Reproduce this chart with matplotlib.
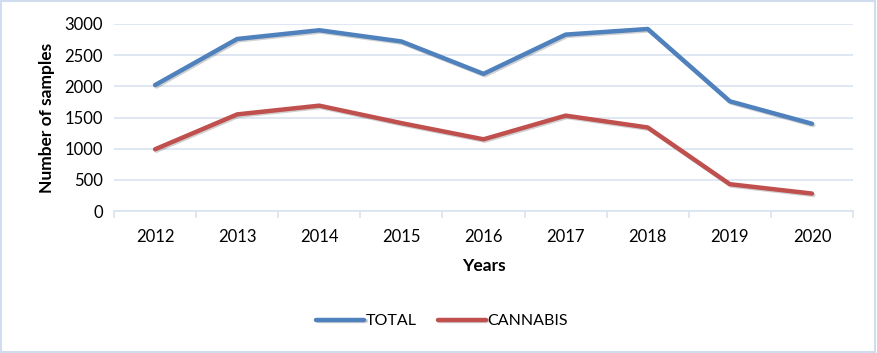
import numpy as np
import matplotlib
matplotlib.use('Agg')
import matplotlib.pyplot as plt
import matplotlib.patheffects as pe

years = ['2012', '2013', '2014', '2015', '2016', '2017', '2018', '2019', '2020']
total = [2020, 2760, 2900, 2720, 2200, 2830, 2920, 1760, 1400]
cannabis = [990, 1550, 1690, 1410, 1150, 1530, 1340, 430, 280]

plt.rcParams['font.family'] = ['Lato', 'DejaVu Sans']

grid_col = '#d9e3f0'
fig = plt.figure(figsize=(8.77, 3.53), dpi=100)
ax = fig.add_axes([114 / 877, 1 - 211 / 353, (853 - 114) / 877, (211 - 24) / 353])

x = np.arange(len(years))
shadow = [pe.SimpleLineShadow(offset=(1, -1), alpha=0.18, shadow_color='black'), pe.Normal()]
ax.plot(x, total, color='#4f81bd', lw=3.2, label='TOTAL', solid_capstyle='round', path_effects=shadow)
ax.plot(x, cannabis, color='#c0504d', lw=3.2, label='CANNABIS', solid_capstyle='round', path_effects=shadow)

ax.set_xlim(-0.5, len(years) - 0.5)
ax.set_ylim(0, 3000)
ax.set_yticks(range(0, 3001, 500))
ax.yaxis.grid(True, color=grid_col, lw=1.2)
ax.set_axisbelow(True)
ax.set_xticks(x)
ax.set_xticklabels(years)
ax.set_xticks(np.arange(-0.5, len(years)), minor=True)
ax.tick_params(axis='x', which='major', length=0, pad=13, labelsize=12)
ax.tick_params(axis='x', which='minor', length=5, color=grid_col, width=1.2)
ax.tick_params(axis='y', length=0, pad=8, labelsize=12)
for s in ['top', 'right', 'left']:
    ax.spines[s].set_visible(False)
ax.spines['bottom'].set_color(grid_col)
ax.spines['bottom'].set_linewidth(1.2)

ax.set_ylabel('Number of samples', fontsize=12.5, fontweight='bold', labelpad=7)
fig.text(484 / 877, 1 - 266 / 353, 'Years', ha='center', va='center', fontsize=12.5, fontweight='bold')

fig.legend(loc='center', bbox_to_anchor=(442 / 877, 1 - 321 / 353), ncol=2, frameon=False,
           fontsize=11.5, handlelength=3.0, handletextpad=0.1, columnspacing=1.3)

fig.patches.append(plt.Rectangle((0.001, 0.002), 0.997, 0.995, transform=fig.transFigure,
                                 fill=False, edgecolor='#d0ddef', lw=1.5))

fig.savefig('out.png', dpi=100)
